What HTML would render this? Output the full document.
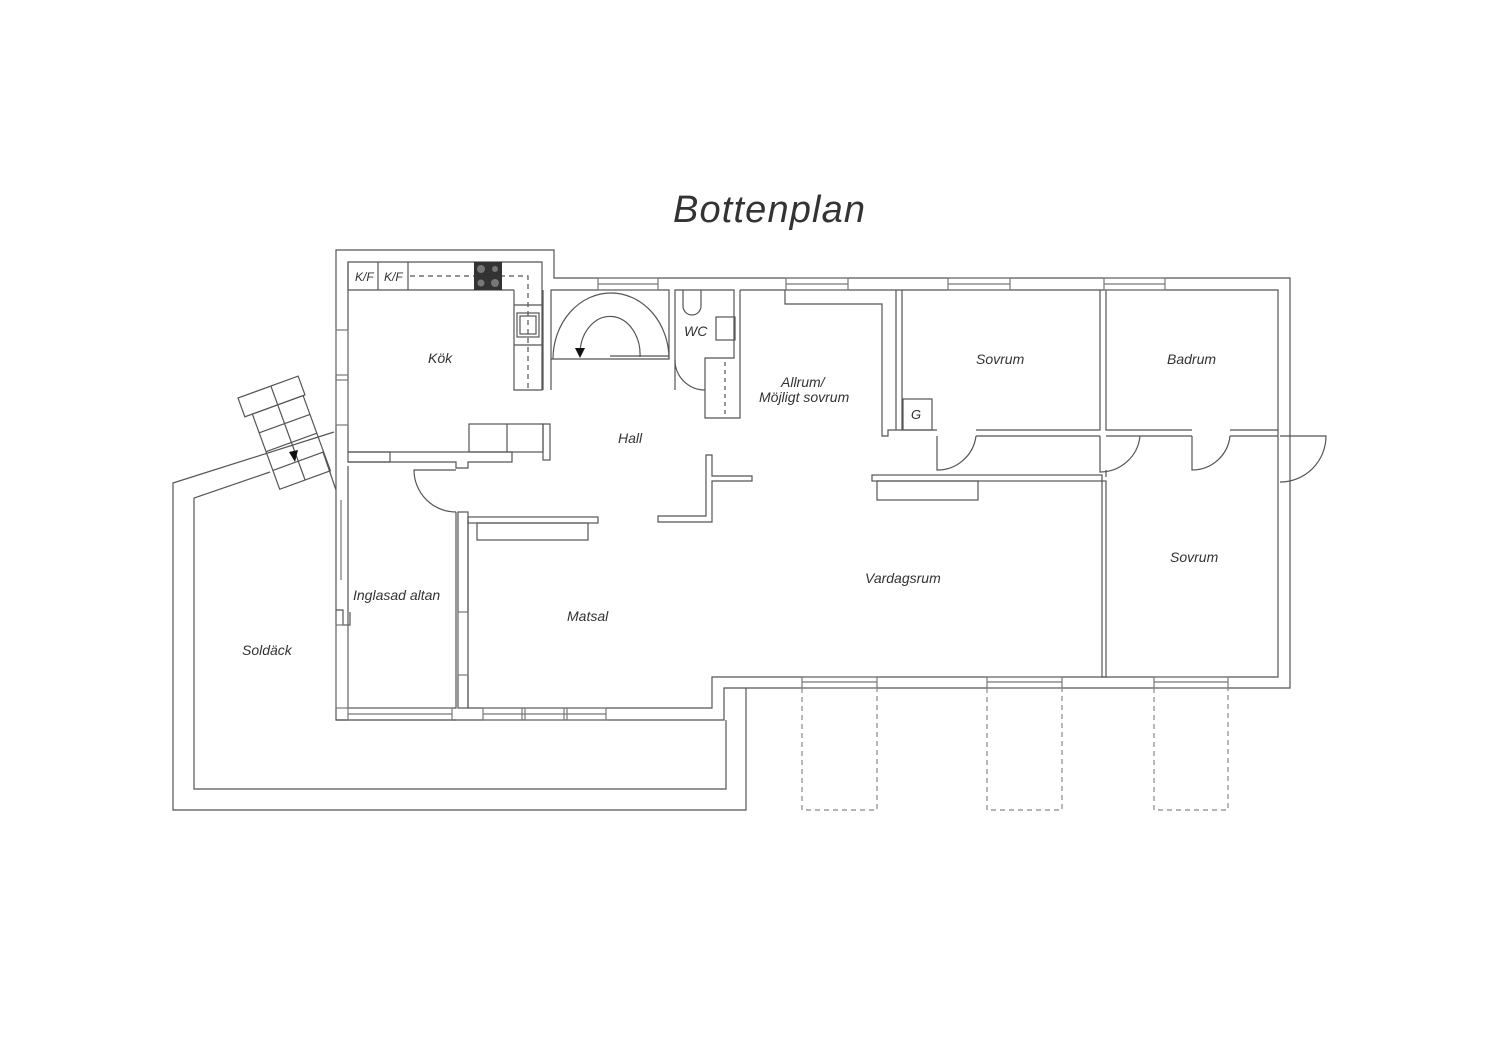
<!DOCTYPE html>
<html><head><meta charset="utf-8"><style>
html,body{margin:0;padding:0;background:#fff;}
svg{display:block}
text{font-family:"Liberation Sans",sans-serif;font-style:italic;fill:#333}
</style></head><body>
<svg width="1500" height="1060" viewBox="0 0 1500 1060" xmlns="http://www.w3.org/2000/svg">
<rect width="1500" height="1060" fill="#fff"/>
<text x="673" y="222" font-size="38" textLength="192" fill="#222">Bottenplan</text>
<g fill="none" stroke="#555" stroke-width="1.2">
<!-- Soldäck -->
<path d="M334,432 L173,483 L173,810 L746,810 L746,688"/>
<path d="M270,472 L194,498 L194,789 L726,789 L726,720"/>
<!-- stairs -->
<g transform="translate(238,398) rotate(-20)">
<rect x="0" y="0" width="64" height="20"/>
<rect x="8" y="20" width="54" height="80"/>
<line x1="8" y1="40" x2="62" y2="40"/><line x1="8" y1="60" x2="62" y2="60"/><line x1="8" y1="80" x2="62" y2="80"/>
<line x1="35" y1="0" x2="35" y2="100"/>
</g>
<line x1="323" y1="452" x2="336" y2="490"/>
<!-- house outer -->
<path d="M336,720 L336,250 L554,250 L554,278 L1290,278 L1290,688 L724,688 L724,720 Z"/>
<!-- kitchen inner -->
<path d="M348,452 L348,262 L542,262 L542,390 L514,390 L514,290"/>
<path d="M551,390 L551,290 L669,290 L669,359 L551,359"/>
<path d="M543,390 L543,290"/>
<path d="M348,262 L348,290 L514,290"/>
<line x1="378" y1="262" x2="378" y2="290"/><line x1="408" y1="262" x2="408" y2="290"/>
<line x1="514" y1="305" x2="542" y2="305"/><line x1="514" y1="345" x2="542" y2="345"/>
<rect x="517" y="313" width="22" height="24"/><rect x="520" y="316" width="16" height="18"/>
<path d="M410,276 L528,276 L528,390" stroke-dasharray="5,4"/>
<!-- island -->
<rect x="469" y="424" width="74" height="28"/><line x1="507" y1="424" x2="507" y2="452"/>
<rect x="543" y="424" width="7" height="36"/>
<!-- kitchen bottom wall -->
<path d="M348,452 L512,452 L512,462 L468,462 L468,468 L456,468 L456,462 L348,462"/>
<rect x="348" y="452" width="42" height="10"/>
<!-- stair -->
<path d="M553,359 A58,66 0 0 1 669,359"/>
<path d="M580,352 A30,38 0 0 1 640,357"/>
<line x1="610" y1="356" x2="669" y2="356"/>
<!-- WC -->
<path d="M675,390 L675,290 L734,290 L734,358 L705,358 L705,418 L740,418 L740,290"/>
<path d="M675,360 A30,30 0 0 0 705,390"/>
<line x1="725" y1="362" x2="725" y2="416" stroke-dasharray="4,4"/>
<path d="M683,290 L683,306 A9,9 0 0 0 701,306 L701,290"/>
<rect x="716" y="317" width="19" height="23"/>
<!-- top inner + allrum -->
<path d="M740,290 L1278,290 L1278,677 L712,677 L712,708 L468,708 L468,520"/>
<path d="M785,290 L785,304 L882,304 L882,436 L888,436 L888,430 L937,430"/>
<path d="M896,290 L896,430 M902,290 L902,430"/>
<rect x="903" y="399" width="29" height="31"/>
<path d="M976,430 L1100,430 L1100,290 M1106,290 L1106,430 L1192,430 M1230,430 L1278,430"/>
<path d="M976,436 L1100,436 M1106,436 L1192,436 M1230,436 L1278,436"/>
<!-- doors -->
<path d="M937,436 L937,470 A39,39 0 0 0 976,436"/>
<path d="M1100,436 L1100,472 A40,40 0 0 0 1140,436"/>
<path d="M1192,436 L1192,470 A38,38 0 0 0 1230,436"/>
<path d="M1280,436 L1326,436 A46,46 0 0 1 1280,482"/>
<path d="M456,470 L414,470 A42,42 0 0 0 456,512"/>
<!-- altan -->
<path d="M348,466 L348,708 L456,708 L456,512 M336,720 L456,720"/>
<rect x="458" y="512" width="10" height="196"/>
<path d="M336,610 L343,610 L343,625 L350,625 L350,612"/>
<!-- matsal counter -->
<rect x="468" y="517" width="130" height="6"/>
<rect x="477" y="523" width="111" height="17"/>
<!-- hall partition -->
<path d="M706,455 L712,455 L712,476 L752,476 L752,481 L712,481 L712,522 L658,522 L658,516 L706,516 Z"/>
<!-- vardagsrum -->
<rect x="872" y="475" width="230" height="6"/>
<rect x="877" y="481" width="101" height="19"/>
<rect x="1102" y="481" width="4" height="196"/>
<path d="M1106,477 L1106,470"/>
<!-- windows -->
<g stroke="#777">
<rect x="598" y="278" width="60" height="12"/><line x1="598" y1="284" x2="658" y2="284"/>
<rect x="786" y="278" width="62" height="12"/><line x1="786" y1="284" x2="848" y2="284"/>
<rect x="948" y="278" width="62" height="12"/><line x1="948" y1="284" x2="1010" y2="284"/>
<rect x="1104" y="278" width="61" height="12"/><line x1="1104" y1="284" x2="1165" y2="284"/>
<rect x="802" y="677" width="75" height="11"/><line x1="802" y1="682" x2="877" y2="682"/>
<rect x="987" y="677" width="75" height="11"/><line x1="987" y1="682" x2="1062" y2="682"/>
<rect x="1154" y="677" width="74" height="11"/><line x1="1154" y1="682" x2="1228" y2="682"/>
<rect x="483" y="708" width="39" height="12"/><rect x="525" y="708" width="39" height="12"/><rect x="567" y="708" width="39" height="12"/>
<line x1="483" y1="714" x2="606" y2="714"/>
<rect x="348" y="708" width="104" height="12"/><line x1="348" y1="714" x2="452" y2="714"/>
<rect x="336" y="330" width="12" height="45"/><rect x="336" y="380" width="12" height="45"/>
<rect x="336" y="625" width="12" height="83"/>
<rect x="458" y="612" width="10" height="63"/>
<line x1="341" y1="500" x2="341" y2="580"/>
</g>
<g stroke="#888" stroke-dasharray="5,4">
<path d="M802,688 L802,810 L877,810 L877,688"/>
<path d="M987,688 L987,810 L1062,810 L1062,688"/>
<path d="M1154,688 L1154,810 L1228,810 L1228,688"/>
</g>
</g>
<!-- stove -->
<rect x="474" y="262" width="28" height="28" fill="#333"/>
<circle cx="481" cy="269" r="4" fill="#777"/><circle cx="495" cy="269" r="3" fill="#777"/>
<circle cx="481" cy="283" r="3.5" fill="#777"/><circle cx="495" cy="283" r="4" fill="#777"/>
<polygon points="575,348 585,348 580,358" fill="#111"/>
<polygon points="289,452 298,450 295,462" fill="#111"/>
<g font-size="13">
<text x="355" y="281" font-size="12">K/F</text><text x="384" y="281" font-size="12">K/F</text>
<text x="428" y="363" font-size="14">Kök</text>
<text x="684" y="336" font-size="14">WC</text>
<text x="618" y="443" font-size="14">Hall</text>
<text x="781" y="387" font-size="14">Allrum/</text>
<text x="759" y="402" font-size="14">Möjligt sovrum</text>
<text x="976" y="364" font-size="14">Sovrum</text>
<text x="1167" y="364" font-size="14">Badrum</text>
<text x="911" y="419" font-size="13">G</text>
<text x="1170" y="562" font-size="14">Sovrum</text>
<text x="865" y="583" font-size="14">Vardagsrum</text>
<text x="567" y="621" font-size="14">Matsal</text>
<text x="353" y="600" font-size="14">Inglasad altan</text>
<text x="242" y="655" font-size="14">Soldäck</text>
</g>
</svg>
</body></html>
